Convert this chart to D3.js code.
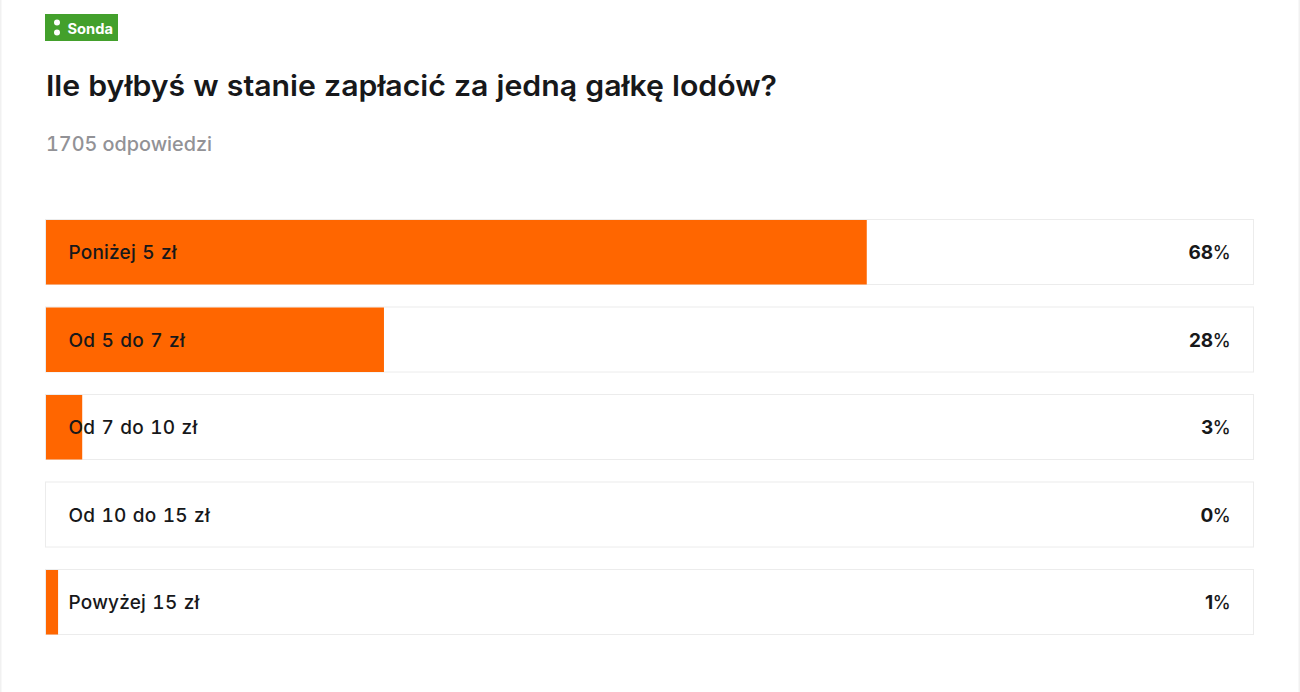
<!DOCTYPE html>
<html><head><meta charset="utf-8">
<script src="https://cdn.jsdelivr.net/npm/d3@7"></script>
<style>
html,body{margin:0;padding:0;background:#fff;overflow:hidden}
svg{display:block}
text{font-family:Inter,Lato,sans-serif;font-variant-numeric:tabular-nums}
text.pct{font-variant-numeric:normal}
</style></head><body>
<svg id="c" width="1300" height="692"></svg>
<script>
const categories=["Poniżej 5 zł","Od 5 do 7 zł","Od 7 do 10 zł","Od 10 do 15 zł","Powyżej 15 zł"];
const percents=[68,28,3,0,1];
const badgeLabel="Sonda";
const titleText="Ile byłbyś w stanie zapłacić za jedną gałkę lodów?";
const answersText="1705 odpowiedzi";

const svg=d3.select("#c");
svg.append("rect").attr("x",0).attr("y",0).attr("width",1.5).attr("height",692).attr("fill","#f1f1f1");
svg.append("rect").attr("x",1298.5).attr("y",0).attr("width",1.5).attr("height",692).attr("fill","#f1f1f1");

svg.append("rect").attr("x",45).attr("y",14).attr("width",73).attr("height",27).attr("fill","#43a02c");
svg.append("circle").attr("cx",57).attr("cy",22.5).attr("r",3).attr("fill","#fff");
svg.append("circle").attr("cx",57).attr("cy",32.5).attr("r",3).attr("fill","#fff");
svg.append("text").attr("x",67.5).attr("y",34).attr("font-size",14).attr("font-weight",700).attr("fill","#fff").attr("textLength",45.5).attr("lengthAdjust","spacingAndGlyphs").text(badgeLabel);

svg.append("text").attr("x",46).attr("y",96).attr("font-size",29).attr("font-weight",600).attr("fill","#17181a").attr("textLength",731).attr("lengthAdjust","spacingAndGlyphs").text(titleText);
svg.append("text").attr("x",46).attr("y",150.5).attr("font-size",20).attr("font-weight",500).attr("fill","#929296").attr("textLength",166).attr("lengthAdjust","spacingAndGlyphs").text(answersText);

const x=d3.scaleLinear().domain([0,100]).range([46,1253]);
const y=d3.scaleBand().domain(categories).range([220,635]).paddingInner(22.5/87.5).paddingOuter(0);
const rows=svg.selectAll("g.row").data(categories.map((c,i)=>({c,v:percents[i]}))).join("g").attr("class","row");
rows.append("rect").attr("x",x(0)-0.5).attr("y",d=>y(d.c)-0.5).attr("width",x(100)-x(0)+1).attr("height",65).attr("fill","#fff").attr("stroke","#ececec");
rows.append("rect").attr("x",x(0)).attr("y",d=>y(d.c)).attr("width",d=>x(d.v)-x(0)).attr("height",64.5).attr("fill","#ff6600");
rows.append("text").attr("x",68.5).attr("y",d=>y(d.c)+39).attr("font-size",19).attr("font-weight",500).attr("fill","#17181a").attr("letter-spacing",0.2).attr("word-spacing",1).text(d=>d.c);
const pct=rows.append("text").attr("class","pct").attr("x",1230).attr("y",d=>y(d.c)+39).attr("text-anchor","end").attr("font-size",19).attr("font-weight",700).attr("fill","#17181a");
pct.append("tspan").text(d=>d.v);
pct.append("tspan").attr("font-weight",500).attr("font-size",18).attr("letter-spacing",-0.6).attr("dx",-0.5).text("%");
</script></body></html>
